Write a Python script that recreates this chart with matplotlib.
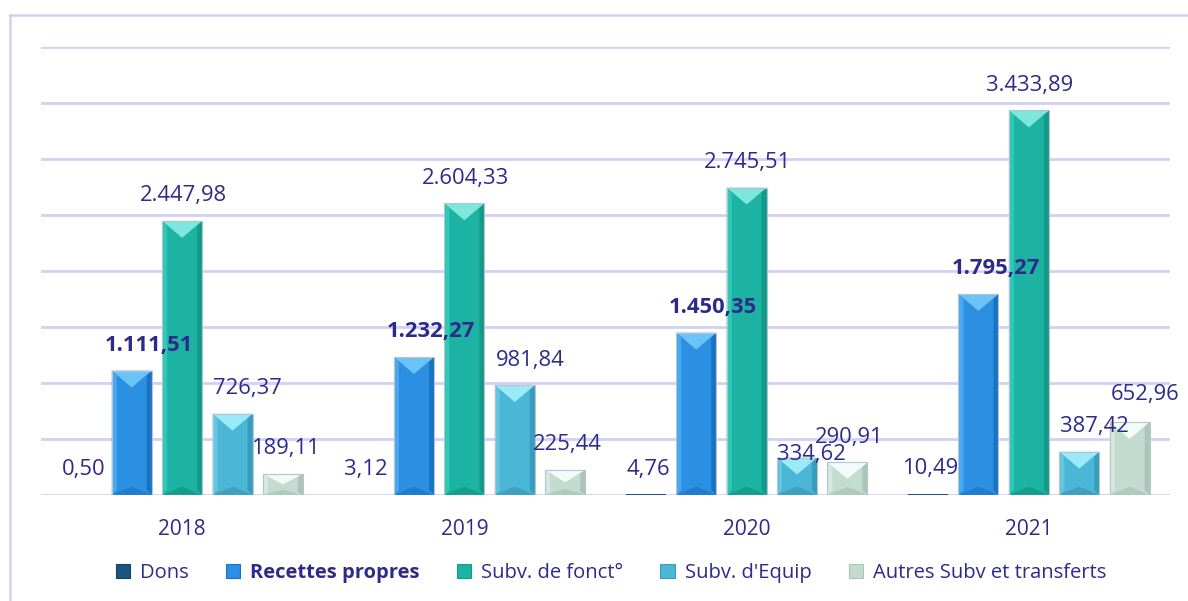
import matplotlib
matplotlib.use("Agg")
import matplotlib.pyplot as plt
from matplotlib.patches import Polygon, Rectangle
from matplotlib.lines import Line2D
import numpy as np

# ---- data ----
years = ["2018", "2019", "2020", "2021"]
series_names = ["Dons", "Recettes propres", "Subv. de fonct°", "Subv. d'Equip", "Autres Subv et transferts"]
dons = [0.50, 3.12, 4.76, 10.49]
recettes = [1111.51, 1232.27, 1450.35, 1795.27]
subv_fonct = [2447.98, 2604.33, 2745.51, 3433.89]
subv_equip = [726.37, 981.84, 334.62, 387.42]
autres = [189.11, 225.44, 290.91, 652.96]
label_texts = [
    ["0,50", "3,12", "4,76", "10,49"],
    ["1.111,51", "1.232,27", "1.450,35", "1.795,27"],
    ["2.447,98", "2.604,33", "2.745,51", "3.433,89"],
    ["726,37", "981,84", "334,62", "387,42"],
    ["189,11", "225,44", "290,91", "652,96"],
]
all_series = [dons, recettes, subv_fonct, subv_equip, autres]

# ---- styles ----
TXT = "#2E2A8C"
GRID = "#D2D0F2"
face = ["#1B557A", "#2B90E2", "#1DB3A2", "#4CB6D6", "#C4DCCF"]
top_c = ["#3D7FA8", "#6CC3F7", "#7DE6DD", "#9BEAF7", "#F2FBF7"]
left_c = ["#2A6A92", "#48A9F2", "#2CC8B8", "#63C6E3", "#D5E9DE"]
right_c = ["#134466", "#1A72C2", "#139A8A", "#3A9CBD", "#A9C6B8"]
bot_c = ["#123D5C", "#1A6FBE", "#12907F", "#3992B2", "#A4C0B2"]
bold = [False, True, False, False, False]
x_off = [2, 17, 1, 15, 2]   # label x offsets in pixels per series
special = {(4, 3): (15, 27), (3, 2): (14, 3)}  # (series, year) -> (dx, dy) pixels

plt.rcParams["font.family"] = ["Open Sans", "DejaVu Sans"]

W, H = 1188, 601
fig = plt.figure(figsize=(W / 100, H / 100), dpi=100)
ax = fig.add_axes([41 / W, 1 - 495 / H, (1170 - 41) / W, (495 - 47) / H])
ax.set_xlim(-0.5, 3.5)
ax.set_ylim(0, 4000)

# outer frame lines
fig.add_artist(Line2D([10 / W, 10 / W], [0, 1 - 15 / H], color=GRID, lw=1.8, transform=fig.transFigure))
fig.add_artist(Line2D([10 / W, 1], [1 - 15 / H, 1 - 15 / H], color=GRID, lw=1.8, transform=fig.transFigure))

for y in np.arange(0, 4001, 500):
    ax.axhline(y, color=GRID, lw=2.0, zorder=0)

for s in ax.spines.values():
    s.set_visible(False)
ax.set_yticks([])
x = np.arange(len(years))
step = 50.4 / 282.25
bw = 40 / 282.25
ax.set_xticks(x)
ax.set_xticklabels(years, fontsize=15, color=TXT)
ax.tick_params(axis="x", length=0, pad=17)

# pixel->data conversions
px_x = 4.0 / (1170 - 41)
px_y = 4000.0 / (495 - 47)

for si, vals in enumerate(all_series):
    xs = x + (si - 2) * step
    bars = ax.bar(xs, vals, width=bw, color=face[si], zorder=2, edgecolor="none")
    for bi, b in enumerate(bars):
        x0, wdt, h = b.get_x(), b.get_width(), b.get_height()
        x1 = x0 + wdt
        xc = x0 + wdt / 2
        if h > 40:
            d = min(17 * px_y, h / 2)
            ds = 5 * px_x
            ax.add_patch(Polygon([[x0, 0], [x0 + ds, d * 0.3], [x0 + ds, h - d * 0.3], [x0, h]],
                                 closed=True, color=left_c[si], zorder=3, lw=0))
            ax.add_patch(Polygon([[x1, 0], [x1 - ds, d * 0.3], [x1 - ds, h - d * 0.3], [x1, h]],
                                 closed=True, color=right_c[si], zorder=3, lw=0))
            ax.add_patch(Polygon([[x0, h], [x1, h], [xc, h - d]], closed=True,
                                 color=top_c[si], zorder=4, lw=0))
            ax.add_patch(Polygon([[x0, 0], [x1, 0], [xc, min(d * 0.5, h / 2)]], closed=True,
                                 color=bot_c[si], zorder=4, lw=0, alpha=0.6))
            ax.add_patch(Rectangle((x0, 0), wdt, h, fill=False, edgecolor="#B8C4CC",
                                   lw=0.8, zorder=5))
        dx, dy = special.get((si, bi), (x_off[si], 25))
        ax.annotate(label_texts[si][bi], (xc, h), xytext=(dx, dy), textcoords="offset pixels",
                    ha="center", va="center", fontsize=15.8, color=TXT,
                    fontweight="bold" if bold[si] else "normal", zorder=6)

# legend
handles = [Rectangle((0, 0), 1, 1, facecolor=face[i], edgecolor=right_c[i], lw=0.8) for i in range(5)]
leg = fig.legend(handles, series_names, loc="center", bbox_to_anchor=(611 / W, 1 - 573 / H),
                 ncol=5, frameon=False, fontsize=14.5, handlelength=0.7, handleheight=0.7,
                 handletextpad=0.5, columnspacing=1.85)
for i, t in enumerate(leg.get_texts()):
    t.set_color(TXT)
    if bold[i]:
        t.set_fontweight("bold")

fig.savefig("out.png", dpi=100, facecolor="white")
